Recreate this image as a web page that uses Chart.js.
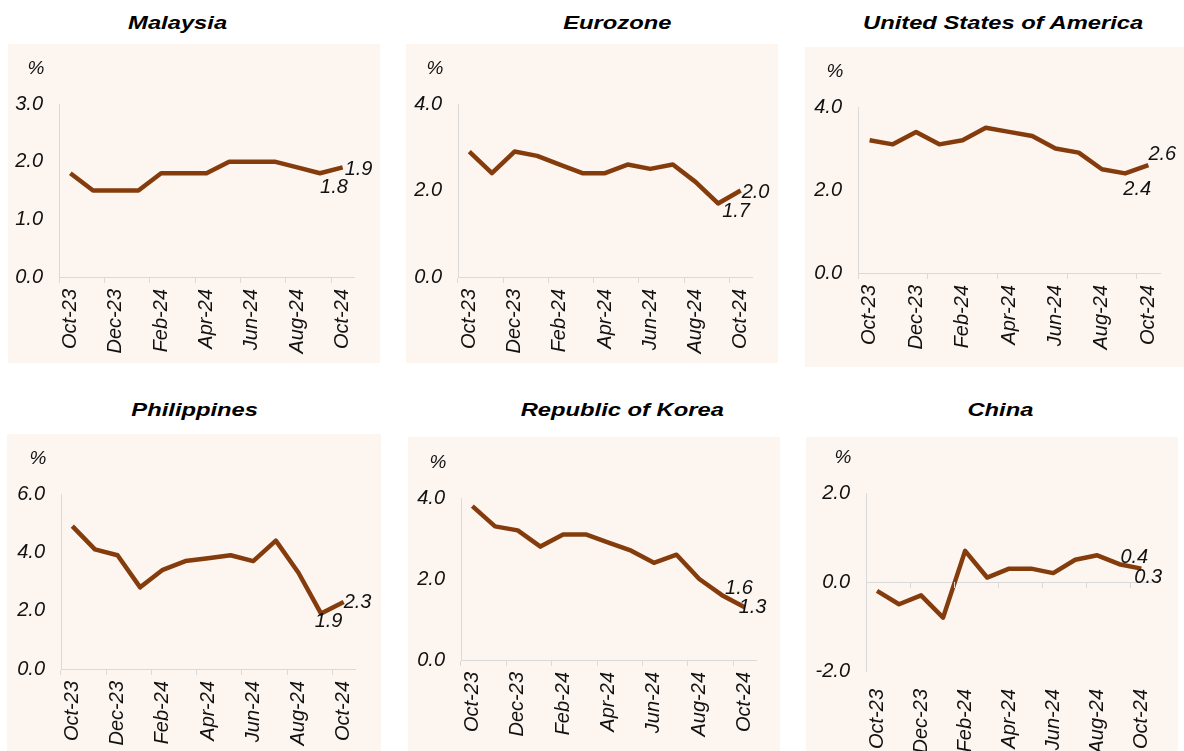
<!DOCTYPE html>
<html>
<head>
<meta charset="utf-8">
<script src="https://cdn.jsdelivr.net/npm/chart.js@4.4.1/dist/chart.umd.min.js"></script>
<style>
  html, body { margin: 0; padding: 0; background: #ffffff; }
  #wrap { position: relative; width: 1184px; height: 751px; overflow: hidden; background: #ffffff; }
  .panel { position: absolute; background: #fcf5f0; }
  .panel canvas { position: absolute; left: 0; top: 0; }
  .title { position: absolute; width: 600px; text-align: center; font-family: "Liberation Sans", Arial, sans-serif;
           font-weight: bold; font-style: italic; font-size: 19px; line-height: 19px; color: #000; white-space: nowrap; }
  .title span { display: inline-block; transform: scaleX(1.25); }
</style>
</head>
<body>
<div id="wrap"></div>
<script>
// ---------- DATA ----------
const months = ['Oct-23','Nov-23','Dec-23','Jan-24','Feb-24','Mar-24','Apr-24','May-24','Jun-24','Jul-24','Aug-24','Sep-24','Oct-24'];
const malaysia    = [1.8, 1.5, 1.5, 1.5, 1.8, 1.8, 1.8, 2.0, 2.0, 2.0, 1.9, 1.8, 1.9];
const eurozone    = [2.9, 2.4, 2.9, 2.8, 2.6, 2.4, 2.4, 2.6, 2.5, 2.6, 2.2, 1.7, 2.0];
const usa         = [3.2, 3.1, 3.4, 3.1, 3.2, 3.5, 3.4, 3.3, 3.0, 2.9, 2.5, 2.4, 2.6];
const philippines = [4.9, 4.1, 3.9, 2.8, 3.4, 3.7, 3.8, 3.9, 3.7, 4.4, 3.3, 1.9, 2.3];
const korea       = [3.8, 3.3, 3.2, 2.8, 3.1, 3.1, 2.9, 2.7, 2.4, 2.6, 2.0, 1.6, 1.3];
const china       = [-0.2, -0.5, -0.3, -0.8, 0.7, 0.1, 0.3, 0.3, 0.2, 0.5, 0.6, 0.4, 0.3];
const titles = ['Malaysia', 'Eurozone', 'United States of America', 'Philippines', 'Republic of Korea', 'China'];
const series = [malaysia, eurozone, usa, philippines, korea, china];
const yMins  = [0, 0, 0, 0, 0, -2];
const yMaxs  = [3, 4, 4, 6, 4, 2];
const ySteps = [1, 2, 2, 2, 2, 2];
const unitLabel = '%';
const labelledPoints = [11, 12]; // last two months carry value labels

// ---------- LAYOUT / STYLE ----------
const FONT = '"Liberation Sans", Arial, sans-serif';
const LINE = '#843c0c';
const AXIS = '#d9d9d9';
const TEXT = '#111111';
const layout = [
  { bg: [8, 44, 372, 319],   plot: [59, 104, 354, 277],   title: [178, 13],  every: 2, zero: false,
    lab: [{dx: 14, dy: 14, align: 'center'}, {dx: 2, dy: 2.5, align: 'left'}] },
  { bg: [406, 44, 372, 319], plot: [458, 104, 752, 277],  title: [617, 13],  every: 2, zero: false,
    lab: [{dx: 18, dy: 7.5, align: 'center'}, {dx: 1, dy: 1.5, align: 'left'}] },
  { bg: [805, 47, 379, 320], plot: [858, 107, 1160, 273], title: [1003, 13], every: 3, zero: false,
    lab: [{dx: 12, dy: 16, align: 'center'}, {dx: 0, dy: -10.5, align: 'left'}] },
  { bg: [7, 434, 374, 317],  plot: [61, 494, 355, 669],   title: [195, 400], every: 2, zero: false,
    lab: [{dx: 7.5, dy: 8, align: 'center'}, {dx: 0, dy: 0.5, align: 'left'}] },
  { bg: [408, 437, 372, 314], plot: [461, 498, 756, 660], title: [622, 400], every: 2, zero: false,
    lab: [{dx: 17, dy: -7, align: 'center'}, {dx: -6, dy: 0, align: 'left'}] },
  { bg: [806, 437, 372, 314], plot: [866, 493, 1160, 671], title: [1000, 400], every: 2, zero: true,
    lab: [{dx: 15, dy: -7, align: 'center'}, {dx: -7, dy: 9, align: 'left'}] }
];

const extras = {
  id: 'extras',
  afterDatasetsDraw(chart, args, opts) {
    const ctx = chart.ctx;
    const meta = chart.getDatasetMeta(0);
    const data = chart.data.datasets[0].data;
    const area = chart.chartArea;
    ctx.save();
    if (opts.zero) {
      const xs = chart.scales.x, ys = chart.scales.y;
      const y0 = ys.getPixelForValue(0);
      ctx.strokeStyle = AXIS; ctx.lineWidth = 1;
      for (let i = 0; i < data.length; i += opts.every) {
        const x = Math.round(xs.getPixelForValue(i - 0.5)) + 0.5;
        ctx.beginPath(); ctx.moveTo(x, y0); ctx.lineTo(x, y0 + 6); ctx.stroke();
      }
    }
    ctx.fillStyle = TEXT;
    ctx.font = 'italic 20px ' + FONT;
    ctx.textBaseline = 'middle';
    labelledPoints.forEach((idx, k) => {
      const p = meta.data[idx];
      const l = opts.lab[k];
      ctx.textAlign = l.align;
      ctx.fillText(data[idx].toFixed(1), p.x + l.dx, p.y + l.dy);
    });
    ctx.font = 'italic 19px ' + FONT;
    ctx.textAlign = 'center';
    ctx.fillText(unitLabel, area.left - 23, area.top - 35);
    ctx.restore();
  }
};

const wrap = document.getElementById('wrap');
layout.forEach((L, n) => {
  const [bx, by, bw, bh] = L.bg;
  const [pl, pt, pr, pb] = L.plot;
  const t = document.createElement('div');
  t.className = 'title';
  t.style.left = (L.title[0] - 300) + 'px';
  t.style.top = L.title[1] + 'px';
  const sp = document.createElement('span');
  sp.textContent = titles[n];
  t.appendChild(sp);
  wrap.appendChild(t);

  const panel = document.createElement('div');
  panel.className = 'panel';
  panel.style.left = bx + 'px'; panel.style.top = by + 'px';
  panel.style.width = bw + 'px'; panel.style.height = bh + 'px';
  const cv = document.createElement('canvas');
  cv.width = bw; cv.height = bh;
  cv.style.width = bw + 'px'; cv.style.height = bh + 'px';
  panel.appendChild(cv);
  wrap.appendChild(panel);

  new Chart(cv.getContext('2d'), {
    type: 'line',
    data: {
      labels: months,
      datasets: [{
        data: series[n],
        borderColor: LINE,
        borderWidth: 4.5,
        pointRadius: 0,
        tension: 0,
        borderJoinStyle: 'round',
        fill: false,
        clip: false
      }]
    },
    plugins: [extras],
    options: {
      responsive: false,
      animation: false,
      events: [],
      layout: { padding: { left: 0, top: pt - by, right: bx + bw - pr, bottom: 0 } },
      plugins: {
        legend: { display: false },
        tooltip: { enabled: false },
        extras: { lab: L.lab, zero: L.zero, every: L.every }
      },
      scales: {
        x: {
          type: 'category',
          offset: true,
          border: { display: !L.zero, color: AXIS, width: 1 },
          grid: {
            display: !L.zero,
            offset: true,
            drawOnChartArea: false,
            drawTicks: true,
            tickLength: 6,
            lineWidth: 1,
            color: c => (c.index % L.every === 0) ? AXIS : 'rgba(0,0,0,0)'
          },
          ticks: {
            autoSkip: false,
            minRotation: 90,
            maxRotation: 90,
            padding: L.zero ? 12 : 6,
            color: TEXT,
            font: { family: FONT, size: 20, style: 'italic' },
            callback: (v, i) => (i % 2 === 0 ? months[i] : '')
          },
          afterFit: s => { s.height = by + bh - pb; }
        },
        y: {
          min: yMins[n],
          max: yMaxs[n],
          border: { display: true, color: AXIS, width: 1 },
          grid: {
            display: L.zero,
            drawTicks: false,
            lineWidth: 1,
            color: c => (c.tick && c.tick.value === 0) ? AXIS : 'rgba(0,0,0,0)'
          },
          ticks: {
            stepSize: ySteps[n],
            padding: 16,
            color: TEXT,
            font: { family: FONT, size: 20, style: 'italic' },
            callback: v => Number(v).toFixed(1)
          },
          afterFit: s => { s.width = pl - bx; }
        }
      }
    }
  });
});
</script>
</body>
</html>
